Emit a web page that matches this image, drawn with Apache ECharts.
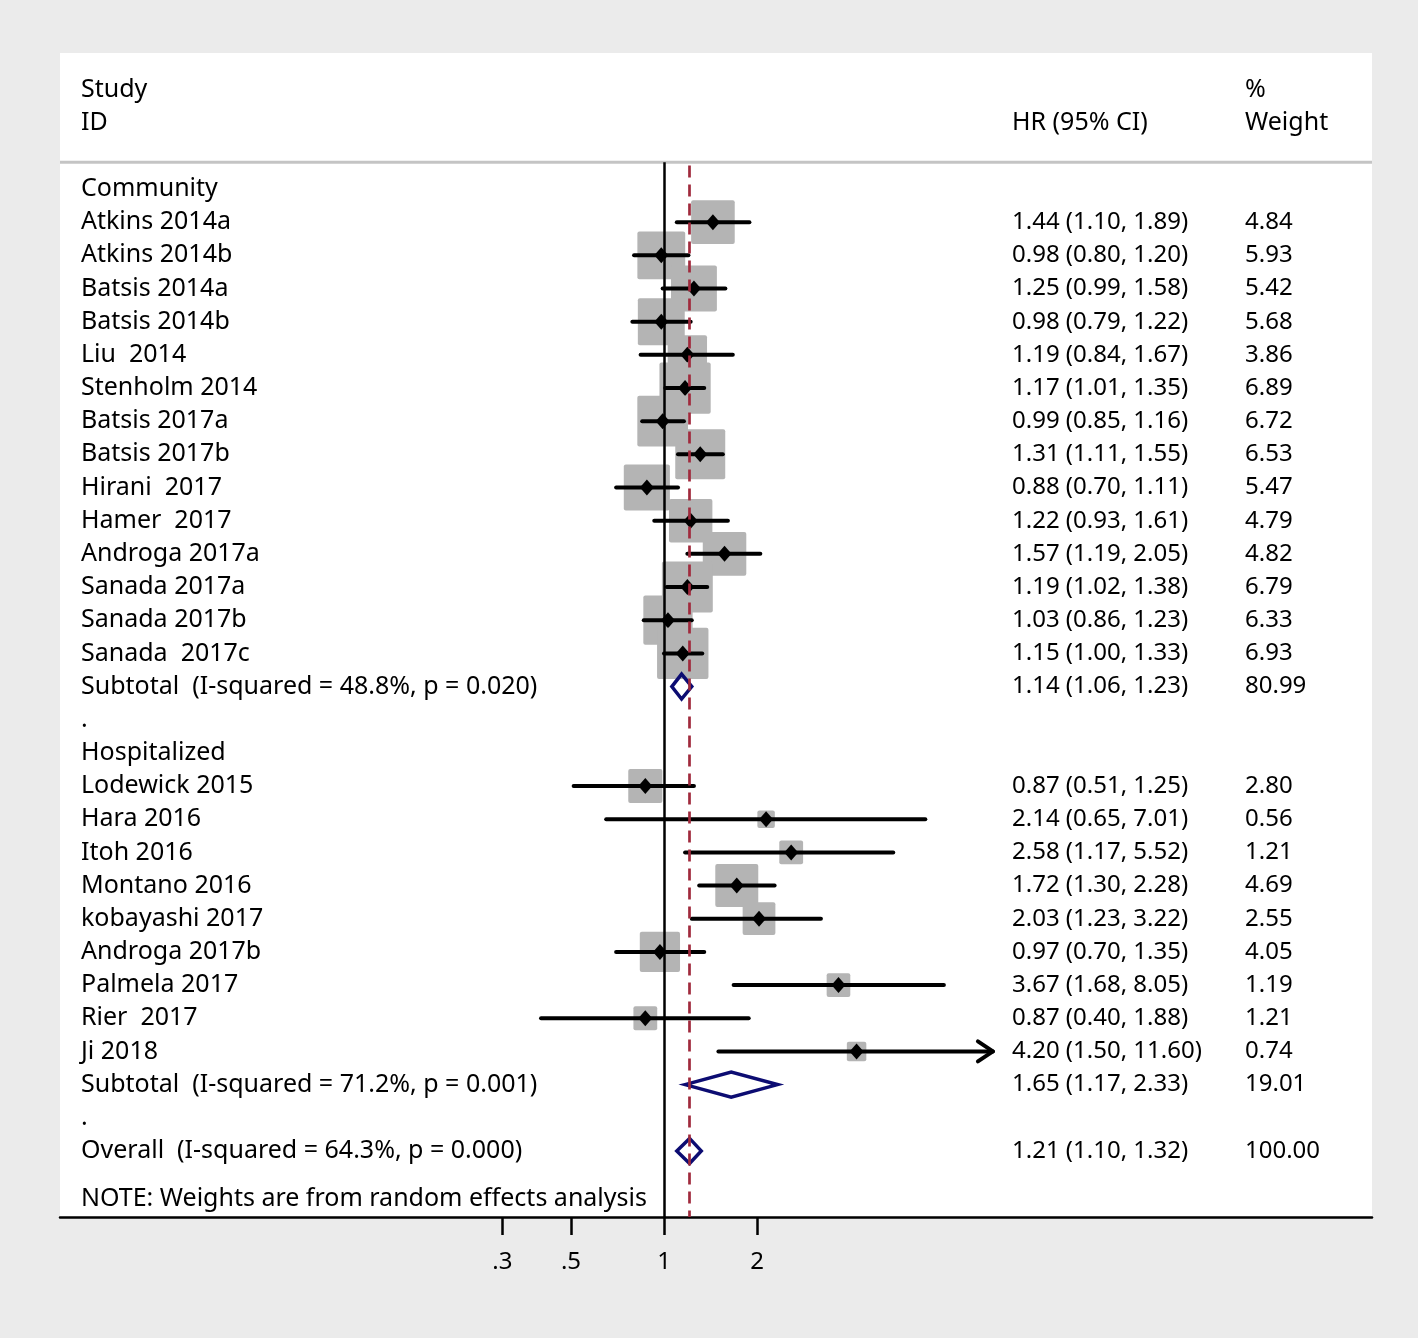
<!DOCTYPE html>
<html>
<head>
<meta charset="utf-8">
<script src="https://cdn.jsdelivr.net/npm/echarts@6/dist/echarts.min.js"></script>
<style>
  html, body { margin: 0; padding: 0; background: #ebebeb; }
  #chart { width: 1418px; height: 1338px; }
</style>
</head>
<body>
<div id="chart"></div>
<script>
// ---------------- DATA ----------------
const group1Label = 'Community';
const communityStudies = ['Atkins 2014a', 'Atkins 2014b', 'Batsis 2014a', 'Batsis 2014b', 'Liu  2014',
  'Stenholm 2014', 'Batsis 2017a', 'Batsis 2017b', 'Hirani  2017', 'Hamer  2017', 'Androga 2017a',
  'Sanada 2017a', 'Sanada 2017b', 'Sanada  2017c'];
const communityHR = [1.44, 0.98, 1.25, 0.98, 1.19, 1.17, 0.99, 1.31, 0.88, 1.22, 1.57, 1.19, 1.03, 1.15];
const communityLo = [1.10, 0.80, 0.99, 0.79, 0.84, 1.01, 0.85, 1.11, 0.70, 0.93, 1.19, 1.02, 0.86, 1.00];
const communityHi = [1.89, 1.20, 1.58, 1.22, 1.67, 1.35, 1.16, 1.55, 1.11, 1.61, 2.05, 1.38, 1.23, 1.33];
const communityWeight = [4.84, 5.93, 5.42, 5.68, 3.86, 6.89, 6.72, 6.53, 5.47, 4.79, 4.82, 6.79, 6.33, 6.93];

const group2Label = 'Hospitalized';
const hospitalStudies = ['Lodewick 2015', 'Hara 2016', 'Itoh 2016', 'Montano 2016', 'kobayashi 2017',
  'Androga 2017b', 'Palmela 2017', 'Rier  2017', 'Ji 2018'];
const hospitalHR = [0.87, 2.14, 2.58, 1.72, 2.03, 0.97, 3.67, 0.87, 4.20];
const hospitalLo = [0.51, 0.65, 1.17, 1.30, 1.23, 0.70, 1.68, 0.40, 1.50];
const hospitalHi = [1.25, 7.01, 5.52, 2.28, 3.22, 1.35, 8.05, 1.88, 11.60];
const hospitalWeight = [2.80, 0.56, 1.21, 4.69, 2.55, 4.05, 1.19, 1.21, 0.74];

const pooledLabels = ['Subtotal  (I-squared = 48.8%, p = 0.020)', 'Subtotal  (I-squared = 71.2%, p = 0.001)',
  'Overall  (I-squared = 64.3%, p = 0.000)'];
const pooledHR = [1.14, 1.65, 1.21];
const pooledLo = [1.06, 1.17, 1.10];
const pooledHi = [1.23, 2.33, 1.32];
const pooledWeight = [80.99, 19.01, 100.00];

const xTicks = [0.3, 0.5, 1, 2];
const headerLeft = ['Study', 'ID'];
const headerMid = 'HR (95% CI)';
const headerRight = ['%', 'Weight'];
const noteText = 'NOTE: Weights are from random effects analysis';
const nullValue = 1;
const arrowBeyond = 10;

// ---------------- ROW LAYOUT ----------------
const rows = [];
rows.push({ label: group1Label, type: 'head' });
communityStudies.forEach((s, i) => rows.push({ label: s, type: 'study', hr: communityHR[i], lo: communityLo[i], hi: communityHi[i], w: communityWeight[i] }));
rows.push({ label: pooledLabels[0], type: 'pooled', hr: pooledHR[0], lo: pooledLo[0], hi: pooledHi[0], w: pooledWeight[0] });
rows.push({ label: '.', type: 'blank' });
rows.push({ label: group2Label, type: 'head' });
hospitalStudies.forEach((s, i) => rows.push({ label: s, type: 'study', hr: hospitalHR[i], lo: hospitalLo[i], hi: hospitalHi[i], w: hospitalWeight[i] }));
rows.push({ label: pooledLabels[1], type: 'pooled', hr: pooledHR[1], lo: pooledLo[1], hi: pooledHi[1], w: pooledWeight[1] });
rows.push({ label: '.', type: 'blank' });
rows.push({ label: pooledLabels[2], type: 'pooled', hr: pooledHR[2], lo: pooledLo[2], hi: pooledHi[2], w: pooledWeight[2] });

const studyData = [], pooledData = [];
rows.forEach((r, i) => {
  if (r.type === 'study') studyData.push([r.hr, r.lo, r.hi, r.w, i]);
  if (r.type === 'pooled') pooledData.push([r.hr, r.lo, r.hi, r.w, i]);
});
const overallHR = pooledHR[2];

const fmt = v => v.toFixed(2);
const FONT = '"Noto Sans", "Open Sans", sans-serif';
const FS_LABEL = 25;
const FS_NUM = 24;

// grid pixel geometry
const gridLeft = 60, gridRight = 1418 - 1372, gridTop = 53, gridBottom = 1338 - 1217;
const pxPerDecade = 309, xZeroPx = 664;
const xMin = Math.pow(10, (gridLeft - xZeroPx) / pxPerDecade);
const xMax = Math.pow(10, (1372 - xZeroPx) / pxPerDecade);
const rowPx = 33.17, firstRowPx = 189;
const yMin = -(firstRowPx - gridTop) / rowPx;
const yMax = yMin + (1217 - gridTop) / rowPx;
const sepRow = -0.81;
const noteRow = rows.length + 0.45;

const textItems = [];
textItems.push({ row: -3, col: 0, text: headerLeft[0] });
textItems.push({ row: -2, col: 0, text: headerLeft[1] });
textItems.push({ row: -2, col: 1, text: headerMid });
textItems.push({ row: -3, col: 2, text: headerRight[0] });
textItems.push({ row: -2, col: 2, text: headerRight[1] });
rows.forEach((r, i) => {
  textItems.push({ row: i, col: 0, text: r.label });
  if (r.type === 'study' || r.type === 'pooled') {
    textItems.push({ row: i, col: 1, text: fmt(r.hr) + ' (' + fmt(r.lo) + ', ' + fmt(r.hi) + ')', num: true });
    textItems.push({ row: i, col: 2, text: fmt(r.w), num: true });
  }
});
textItems.push({ row: noteRow, col: 0, text: noteText });
const colX = [81, 1012, 1245];

const chart = echarts.init(document.getElementById('chart'), null, { renderer: 'canvas' });

chart.setOption({
  backgroundColor: '#ebebeb',
  animation: false,
  grid: {
    left: gridLeft, right: gridRight, top: gridTop, bottom: gridBottom,
    show: true, backgroundColor: '#ffffff', borderWidth: 0
  },
  xAxis: {
    type: 'log', min: xMin, max: xMax, logBase: 10, position: 'bottom',
    axisLine: { show: true, onZero: false, lineStyle: { color: '#000', width: 2.5 } },
    axisTick: { show: true, length: 18, lineStyle: { color: '#000', width: 2.5 }, customValues: xTicks },
    axisLabel: {
      show: true, customValues: xTicks, margin: 33, color: '#000', fontSize: FS_NUM, fontFamily: FONT,
      formatter: v => String(+(+v).toFixed(4)).replace(/^0\./, '.')
    },
    splitLine: { show: false }, minorTick: { show: false }
  },
  yAxis: {
    type: 'value', inverse: true, min: yMin, max: yMax, show: false,
    axisLine: { show: false }, splitLine: { show: false }
  },
  series: [
    {
      type: 'line', data: [], z: 1, silent: true,
      markLine: {
        symbol: 'none', silent: true, animation: false,
        label: { show: false },
        data: [
          [{ coord: [nullValue, sepRow], lineStyle: { color: '#000', width: 2.5, type: 'solid' } }, { coord: [nullValue, yMax] }],
          [{ coord: [overallHR, sepRow + 0.1], lineStyle: { color: '#a02a3c', width: 2.7, type: [12, 7] } }, { coord: [overallHR, yMax] }]
        ]
      }
    },
    {
      type: 'custom', z: 1, silent: true,
      data: [[xMin, sepRow]],
      renderItem: (params, api) => {
        const p = api.coord([xMin, sepRow]);
        const q = api.coord([xMax, sepRow]);
        return { type: 'line', shape: { x1: p[0], y1: p[1], x2: q[0], y2: q[1] }, style: { stroke: '#c4c4c4', lineWidth: 3 } };
      }
    },
    {
      type: 'custom', z: 3, silent: true,
      data: studyData,
      renderItem: (params, api) => {
        const hr = api.value(0), lo = api.value(1), hi = api.value(2), w = api.value(3), row = api.value(4);
        const p = api.coord([hr, row]);
        const pl = api.coord([lo, row]);
        const ph = api.coord([hi, row]);
        const side = 18 * Math.sqrt(w) + 4;
        const x = p[0], y = p[1];
        const children = [
          { type: 'rect', shape: { x: x - side / 2, y: y - side / 2, width: side, height: side, r: 2 }, style: { fill: '#b4b4b4' } },
          { type: 'line', shape: { x1: pl[0], y1: y, x2: ph[0], y2: y }, style: { stroke: '#000', lineWidth: 4, lineCap: 'round' } },
          { type: 'polygon', shape: { points: [[x - 7, y], [x, y - 8], [x + 7, y], [x, y + 8]] }, style: { fill: '#000' } }
        ];
        if (hi > arrowBeyond) {
          children.push({ type: 'polyline', shape: { points: [[ph[0] - 15, y - 10], [ph[0], y], [ph[0] - 15, y + 10]] },
            style: { stroke: '#000', lineWidth: 4, lineCap: 'round', lineJoin: 'round', fill: null } });
        }
        return { type: 'group', children };
      }
    },
    {
      type: 'custom', z: 4, silent: true,
      data: pooledData,
      renderItem: (params, api) => {
        const hr = api.value(0), lo = api.value(1), hi = api.value(2), row = api.value(4);
        const p = api.coord([hr, row]);
        const pl = api.coord([lo, row]);
        const ph = api.coord([hi, row]);
        const h = 12.5;
        return {
          type: 'polygon',
          shape: { points: [[pl[0], p[1]], [p[0], p[1] - h], [ph[0], p[1]], [p[0], p[1] + h]] },
          style: { fill: null, stroke: '#0c0c72', lineWidth: 3.5, lineJoin: 'miter' }
        };
      }
    },
    {
      type: 'custom', z: 5, silent: true,
      data: textItems.map(t => [nullValue, t.row]),
      renderItem: (params, api) => {
        const t = textItems[params.dataIndex];
        const y = api.coord([nullValue, t.row])[1];
        const fs = t.num ? FS_NUM : FS_LABEL;
        return {
          type: 'text', x: colX[t.col], y: y,
          style: { text: t.text, fill: '#000', font: fs + 'px ' + FONT, textAlign: 'left', verticalAlign: 'middle' }
        };
      }
    }
  ]
});
</script>
</body>
</html>
